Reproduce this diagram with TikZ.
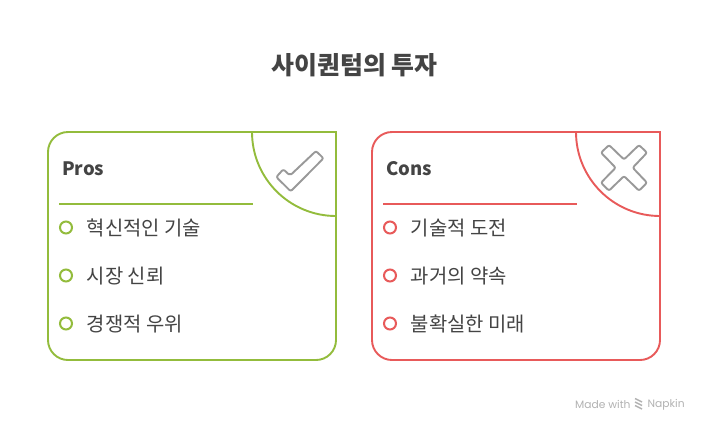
\documentclass[tikz,border=0pt]{standalone}
\usepackage{fontspec}
\setmainfont{Noto Sans CJK KR}
\newfontfamily\markfont{Poppins}
\definecolor{grn}{HTML}{93BC3C}
\definecolor{rd}{HTML}{E85A5A}
\definecolor{ink}{HTML}{444444}
\definecolor{icon}{HTML}{999999}
\tikzset{
  card/.style={line width=1.9pt},
  sep/.style={line width=1.5pt},
  dot/.style={circle,draw,line width=2pt,fill=white,minimum size=12pt,inner sep=0pt},
  item/.style={anchor=west,text=ink,font=\fontsize{19.9}{22}\selectfont,inner sep=0pt},
  head/.style={anchor=west,text=ink,font=\fontsize{18.5}{22}\bfseries\selectfont,inner sep=0pt},
  glyph/.style={draw=icon,line width=1.9pt,rounded corners=2pt,line join=round},
  brand/.style={anchor=west,text=black!30,font=\markfont\fontsize{10.7}{13}\selectfont,inner sep=0pt}
}
\begin{document}
\begin{tikzpicture}[x=1pt,y=-1pt]
\useasboundingbox[fill=white] (0,0) rectangle (708,432);
\node[text=ink,font=\fontsize{24.9}{28}\bfseries\selectfont,inner sep=0pt] (title) at (354.5,65) {사이퀀텀의 투자};
% Pros card
\draw[card,draw=grn] (48,152) arc[start angle=180,end angle=270,radius=20] -- (336,132) -- (336,340) arc[start angle=0,end angle=90,radius=20] -- (68,360) arc[start angle=90,end angle=180,radius=20] -- cycle;
\draw[card,draw=grn] (252,132) arc[start angle=180,end angle=90,radius=84];
\node[head] (pros) at (62,168.5) {Pros};
\coordinate (pa) at (59,204); \coordinate (pb) at (253,204);
\draw[sep,draw=grn] (pa) -- (pb);
\node[dot,draw=grn] (p1) at (66,227.5) {};
\node[dot,draw=grn] (p2) at (66,275.5) {};
\node[dot,draw=grn] (p3) at (66,323.5) {};
\node[item] (pt1) at (86.5,228) {혁신적인 기술};
\node[item] (pt2) at (86.5,276) {시장 신뢰};
\node[item] (pt3) at (86.5,324) {경쟁적 우위};
\draw[glyph] (283.3,169.3) -- (290,175.5) -- (316,151) -- (323.5,158.3) -- (290.7,191.3) -- (276.3,177) -- cycle;
% Cons card
\draw[card,draw=rd] (372,152) arc[start angle=180,end angle=270,radius=20] -- (660,132) -- (660,340) arc[start angle=0,end angle=90,radius=20] -- (392,360) arc[start angle=90,end angle=180,radius=20] -- cycle;
\draw[card,draw=rd] (576,132) arc[start angle=180,end angle=90,radius=84];
\node[head] (cons) at (386,168.5) {Cons};
\coordinate (ca) at (383,204); \coordinate (cb) at (577,204);
\draw[sep,draw=rd] (ca) -- (cb);
\node[dot,draw=rd] (c1) at (390,227.5) {};
\node[dot,draw=rd] (c2) at (390,275.5) {};
\node[dot,draw=rd] (c3) at (390,323.5) {};
\node[item] (ct1) at (410.5,228) {기술적 도전};
\node[item] (ct2) at (410.5,276) {과거의 약속};
\node[item] (ct3) at (410.5,324) {불확실한 미래};
\draw[glyph] (624,159.5) -- (639,145) -- (647,152.7) -- (632.7,167.7) -- (647,182.7) -- (639,190.7) -- (624,176) -- (609,190.7) -- (601,182.7) -- (615.7,167.7) -- (601,152.7) -- (609,145) -- cycle;
% footer
\node[brand] (made) at (575,404.5) {Made with};
\node[brand] (napkin) at (647.5,404.5) {Napkin};
\foreach \yy in {400,403.5,407}{\draw[black!30,line width=1.4pt] (635,\yy-1.5) -- (642,\yy+2);}
\end{tikzpicture}
\end{document}
